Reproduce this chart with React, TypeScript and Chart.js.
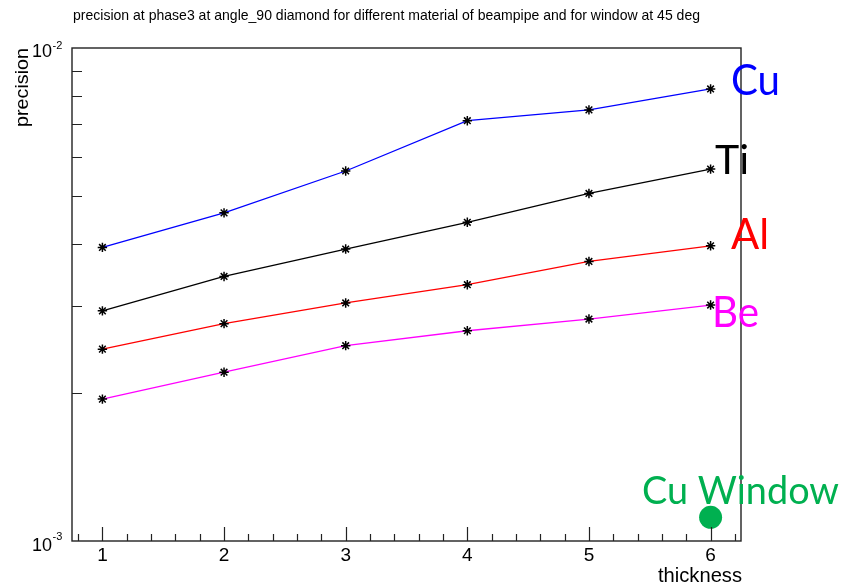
import React, { useEffect, useRef } from "react";
import { Chart, registerables } from "chart.js";

Chart.register(...registerables);

// ---- data ----
const thickness = [1, 2, 3, 4, 5, 6];
const cuValues = [3.94e-3, 4.63e-3, 5.63e-3, 7.12e-3, 7.49e-3, 8.26e-3];
const tiValues = [2.93e-3, 3.44e-3, 3.91e-3, 4.43e-3, 5.07e-3, 5.68e-3];
const alValues = [2.45e-3, 2.76e-3, 3.04e-3, 3.31e-3, 3.69e-3, 3.97e-3];
const beValues = [1.94e-3, 2.2e-3, 2.49e-3, 2.67e-3, 2.82e-3, 3.01e-3];
const cuWindowThickness = [6];
const cuWindowValues = [1.117e-3];

const xTickLabels = ["1", "2", "3", "4", "5", "6"];
const yDecadeValues = [1e-3, 1e-2];
const yDecadeExponents = ["-3", "-2"];
const yMinorMultipliers = [2, 3, 4, 5, 6, 7, 8, 9];

const titleText =
  "precision at phase3 at angle_90 diamond for different material of beampipe and for window at 45 deg";
const xTitle = "thickness";
const yTitle = "precision";

const seriesLabels = ["Cu", "Ti", "Al", "Be"];
const seriesColors = ["#0000ff", "#000000", "#ff0000", "#ff00ff"];
const seriesValues = [cuValues, tiValues, alValues, beValues];
const windowLabel = "Cu Window";
const windowColor = "#00b050";

function drawFit(
  ctx: CanvasRenderingContext2D,
  text: string,
  x: number,
  y: number,
  font: string,
  color: string,
  width: number,
  align: CanvasTextAlign = "left"
) {
  ctx.save();
  ctx.font = font;
  ctx.fillStyle = color;
  ctx.textBaseline = "alphabetic";
  ctx.textAlign = align;
  const w = ctx.measureText(text).width;
  const s = width / w;
  ctx.translate(x, y);
  ctx.scale(s, 1);
  ctx.fillText(text, 0, 0);
  ctx.restore();
}

const rootPlugin = {
  id: "rootStyle",
  afterDraw(chart: any) {
    const ctx: CanvasRenderingContext2D = chart.ctx;
    const { left, right, top, bottom } = chart.chartArea;
    const xs = chart.scales.x;
    const ys = chart.scales.y;
    ctx.save();
    // frame
    ctx.strokeStyle = "#222";
    ctx.lineWidth = 1.4;
    ctx.strokeRect(left, top, right - left, bottom - top);

    // x ticks (inward)
    ctx.lineWidth = 1.2;
    ctx.beginPath();
    for (let i = 4; i <= 31; i++) {
      const v = i / 5;
      const px = Math.round(xs.getPixelForValue(v)) + 0.5;
      const len = i % 5 === 0 ? 14 : 7;
      ctx.moveTo(px, bottom);
      ctx.lineTo(px, bottom - len);
    }
    // y minor ticks
    yMinorMultipliers.forEach((m) => {
      const py = Math.round(ys.getPixelForValue(m * yDecadeValues[0])) + 0.5;
      ctx.moveTo(left, py);
      ctx.lineTo(left + 10, py);
    });
    ctx.stroke();

    // x tick labels
    ctx.fillStyle = "#000";
    ctx.font = "19px 'Liberation Sans', Arial, sans-serif";
    ctx.textAlign = "center";
    ctx.textBaseline = "alphabetic";
    thickness.forEach((t, i) => {
      ctx.fillText(xTickLabels[i], xs.getPixelForValue(t), 561);
    });

    // y decade labels 10^-3, 10^-2
    yDecadeValues.forEach((v, i) => {
      const py = ys.getPixelForValue(v);
      ctx.font = "18px 'Liberation Sans', Arial, sans-serif";
      ctx.textAlign = "right";
      ctx.fillText("10", 52, py + (i === 0 ? 10 : 8.5));
      ctx.font = "11px 'Liberation Sans', Arial, sans-serif";
      ctx.textAlign = "left";
      ctx.fillText(yDecadeExponents[i], 52.5, py + (i === 0 ? -1 : 0.5));
    });

    // axis titles
    drawFit(ctx, xTitle, 742, 582, "21px 'Liberation Sans', Arial, sans-serif", "#000", 84, "right");
    ctx.save();
    ctx.translate(28, 127);
    ctx.rotate(-Math.PI / 2);
    drawFit(ctx, yTitle, 0, 0, "19px 'Liberation Sans', Arial, sans-serif", "#000", 79, "left");
    ctx.restore();

    // title
    drawFit(ctx, titleText, 73, 19.5, "15px 'Liberation Sans', Arial, sans-serif", "#000", 627, "left");

    // annotations
    const annot = [
      { x: 731, y: 95, w: 49, size: 42 },
      { x: 715, y: 174, w: 34, size: 41 },
      { x: 731, y: 249, w: 38, size: 42 },
      { x: 712, y: 327, w: 47, size: 42 },
    ];
    annot.forEach((a, i) => {
      drawFit(ctx, seriesLabels[i], a.x, a.y, `${a.size}px Lato, 'Open Sans', sans-serif`, seriesColors[i], a.w, "left");
    });
    drawFit(ctx, windowLabel, 642, 504, "38px Lato, 'Open Sans', sans-serif", windowColor, 197, "left");
    ctx.restore();
  },
};

export default function App() {
  const ref = useRef<HTMLCanvasElement | null>(null);
  useEffect(() => {
    if (!ref.current) return;
    const lineSets = seriesValues.map((vals, i) => ({
      label: seriesLabels[i],
      data: thickness.map((t, j) => ({ x: t, y: vals[j] })),
      borderColor: seriesColors[i],
      borderWidth: 1.3,
      pointStyle: "star" as const,
      pointRadius: 4.7,
      pointBorderColor: "#000",
      pointBackgroundColor: "#000",
      pointBorderWidth: 1.5,
      tension: 0,
      showLine: true,
      fill: false,
    }));
    const windowSet = {
      label: windowLabel,
      data: cuWindowThickness.map((t, j) => ({ x: t, y: cuWindowValues[j] })),
      showLine: false,
      pointStyle: "circle" as const,
      pointRadius: 11.5,
      pointBackgroundColor: windowColor,
      pointBorderColor: windowColor,
      pointBorderWidth: 0,
      borderColor: windowColor,
    };
    const chart = new Chart(ref.current, {
      type: "line",
      data: { datasets: [...lineSets, windowSet] as any },
      options: {
        responsive: false,
        animation: false,
        devicePixelRatio: 1,
        layout: { padding: { left: 72, right: 115, top: 48, bottom: 46 } },
        plugins: { legend: { display: false }, tooltip: { enabled: false }, title: { display: false } },
        scales: {
          x: { type: "linear", min: 0.75, max: 6.25, display: false },
          y: { type: "logarithmic", min: 1e-3, max: 1e-2, display: false },
        },
      },
      plugins: [rootPlugin],
    });
    return () => chart.destroy();
  }, []);
  return (
    <div style={{ position: "fixed", left: 0, top: 0, width: 856, height: 587, background: "#fff" }}>
      <canvas ref={ref} width={856} height={587} style={{ display: "block", width: 856, height: 587 }} />
    </div>
  );
}
